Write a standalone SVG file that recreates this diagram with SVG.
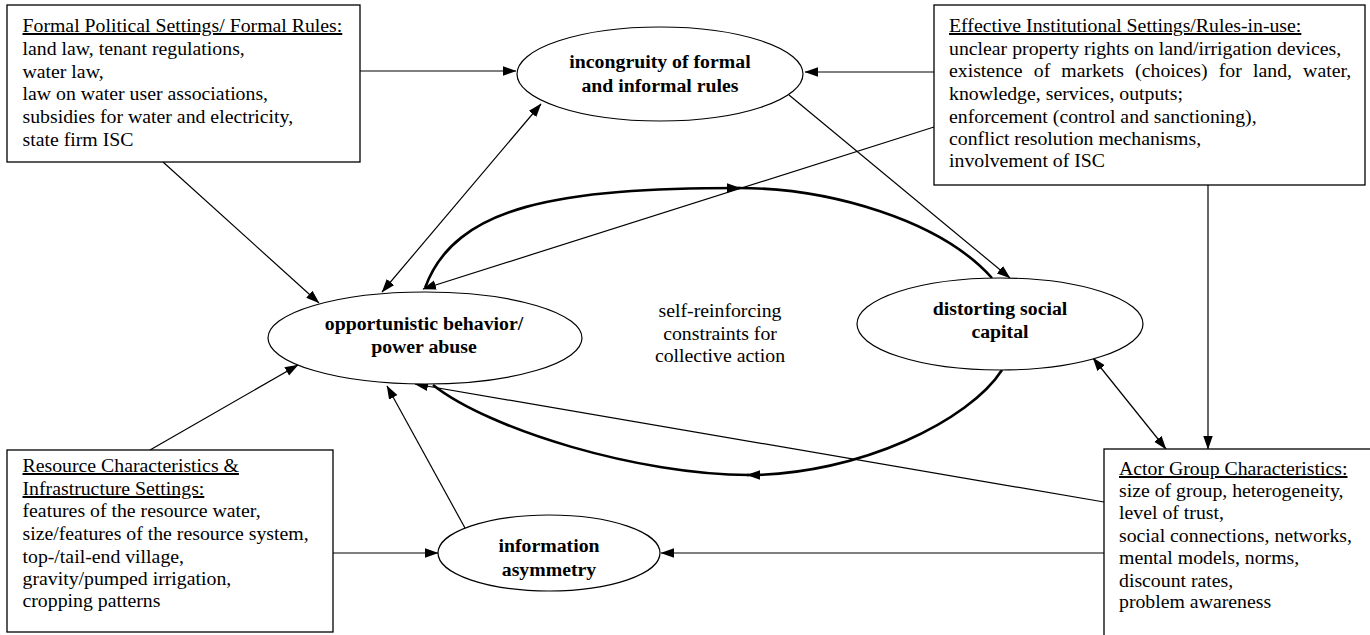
<svg xmlns="http://www.w3.org/2000/svg" width="1370" height="635" viewBox="0 0 1370 635">
<style>
.box{fill:#fff;stroke:#000;stroke-width:1.3}
.ell{fill:#fff;stroke:#000;stroke-width:1.2}
.t{font-family:"Liberation Serif","Times New Roman",serif;font-size:19.8px;fill:#000}
.b{font-weight:bold;text-anchor:middle}
.c{text-anchor:middle}
.u{text-decoration:underline}
.ln{fill:none;stroke:#000;stroke-width:1.2}
.tk{fill:none;stroke:#000;stroke-width:2.6}
</style>
<defs>
<marker id="ah" markerUnits="userSpaceOnUse" markerWidth="14" markerHeight="10" refX="13" refY="4.75" orient="auto-start-reverse" viewBox="0 0 14 10">
<path d="M0,0 L13.5,4.75 L0,9.5 z" fill="#000"/>
</marker>
</defs>

<g id="connectors">
<!-- thick loop -->
<path class="tk" d="M425,288 C455,205 560,188 740,188" marker-end="url(#ah)"/>
<path class="tk" d="M738,188 C830,188 940,220 992,278"/>
<path class="tk" d="M1002,370 C970,420 860,475 747,475" marker-end="url(#ah)"/>
<path class="tk" d="M749,475 C640,475 490,430 433,385"/>
<!-- thin connectors -->
<line class="ln" x1="360" y1="71" x2="516" y2="71" marker-end="url(#ah)"/>
<line class="ln" x1="934" y1="72" x2="805" y2="72" marker-end="url(#ah)"/>
<line class="ln" x1="163" y1="162" x2="319" y2="303" marker-end="url(#ah)"/>
<line class="ln" x1="382" y1="292" x2="541" y2="104" marker-start="url(#ah)" marker-end="url(#ah)"/>
<line class="ln" x1="934" y1="127" x2="423" y2="289" marker-end="url(#ah)"/>
<line class="ln" x1="789" y1="95" x2="1010" y2="278" marker-end="url(#ah)"/>
<line class="ln" x1="1093" y1="358" x2="1166" y2="449" marker-start="url(#ah)" marker-end="url(#ah)"/>
<line class="ln" x1="1208" y1="185" x2="1208" y2="449" marker-end="url(#ah)"/>
<line class="ln" x1="1104" y1="502" x2="415" y2="384" marker-end="url(#ah)"/>
<line class="ln" x1="150" y1="450" x2="298" y2="365" marker-end="url(#ah)"/>
<line class="ln" x1="465" y1="528" x2="387" y2="386" marker-end="url(#ah)"/>
<line class="ln" x1="333" y1="553" x2="438" y2="553" marker-end="url(#ah)"/>
<line class="ln" x1="1104" y1="553" x2="661" y2="553" marker-end="url(#ah)"/>
</g>

<g id="formal-rules">
<rect class="box" x="7" y="5" width="353" height="157"/>
<text class="t" x="22.5" y="32"><tspan class="u">Formal Political Settings/ Formal Rules:</tspan></text>
<text class="t" x="22.5" y="55">land law, tenant regulations,</text>
<text class="t" x="22.5" y="78">water law,</text>
<text class="t" x="22.5" y="100">law on water user associations,</text>
<text class="t" x="22.5" y="123">subsidies for water and electricity,</text>
<text class="t" x="22.5" y="146">state firm ISC</text>
</g>

<g id="effective-rules">
<rect class="box" x="934" y="5" width="431" height="180"/>
<text class="t" x="949" y="32"><tspan class="u">Effective Institutional Settings/Rules-in-use:</tspan></text>
<text class="t" x="949" y="55">unclear property rights on land/irrigation devices,</text>
<text class="t" x="949" y="77" word-spacing="6.2">existence of markets (choices) for land, water,</text>
<text class="t" x="949" y="100">knowledge, services, outputs;</text>
<text class="t" x="949" y="123">enforcement (control and sanctioning),</text>
<text class="t" x="949" y="145">conflict resolution mechanisms,</text>
<text class="t" x="949" y="167">involvement of ISC</text>
</g>

<g id="resource">
<rect class="box" x="7" y="450" width="326" height="182"/>
<text class="t" x="22.5" y="472"><tspan class="u">Resource Characteristics &amp;</tspan></text>
<text class="t" x="22.5" y="495"><tspan class="u">Infrastructure Settings:</tspan></text>
<text class="t" x="22.5" y="517">features of the resource water,</text>
<text class="t" x="22.5" y="540">size/features of the resource system,</text>
<text class="t" x="22.5" y="563">top-/tail-end village,</text>
<text class="t" x="22.5" y="585">gravity/pumped irrigation,</text>
<text class="t" x="22.5" y="607">cropping patterns</text>
</g>

<g id="actor-group">
<rect class="box" x="1104" y="449" width="280" height="200"/>
<text class="t" x="1119" y="475"><tspan class="u">Actor Group Characteristics:</tspan></text>
<text class="t" x="1119" y="497">size of group, heterogeneity,</text>
<text class="t" x="1119" y="519">level of trust,</text>
<text class="t" x="1119" y="542">social connections, networks,</text>
<text class="t" x="1119" y="564">mental models, norms,</text>
<text class="t" x="1119" y="587">discount rates,</text>
<text class="t" x="1119" y="608">problem awareness</text>
</g>

<g id="incongruity">
<ellipse class="ell" cx="660" cy="74" rx="143" ry="47"/>
<text class="t b" x="660" y="68">incongruity of formal</text>
<text class="t b" x="660" y="92">and informal rules</text>
</g>

<g id="opportunistic">
<ellipse class="ell" cx="425" cy="338" rx="157" ry="46"/>
<text class="t b" x="424" y="330">opportunistic behavior/</text>
<text class="t b" x="424" y="353">power abuse</text>
</g>

<g id="distorting">
<ellipse class="ell" cx="1000" cy="324" rx="143" ry="46"/>
<text class="t b" x="1000" y="315">distorting social</text>
<text class="t b" x="1000" y="338">capital</text>
</g>

<g id="information">
<ellipse class="ell" cx="549" cy="553" rx="111" ry="38"/>
<text class="t b" x="549" y="552">information</text>
<text class="t b" x="549" y="576">asymmetry</text>
</g>

<g id="loop-label">
<text class="t c" x="720" y="317">self-reinforcing</text>
<text class="t c" x="720" y="340">constraints for</text>
<text class="t c" x="720" y="362">collective action</text>
</g>
</svg>
